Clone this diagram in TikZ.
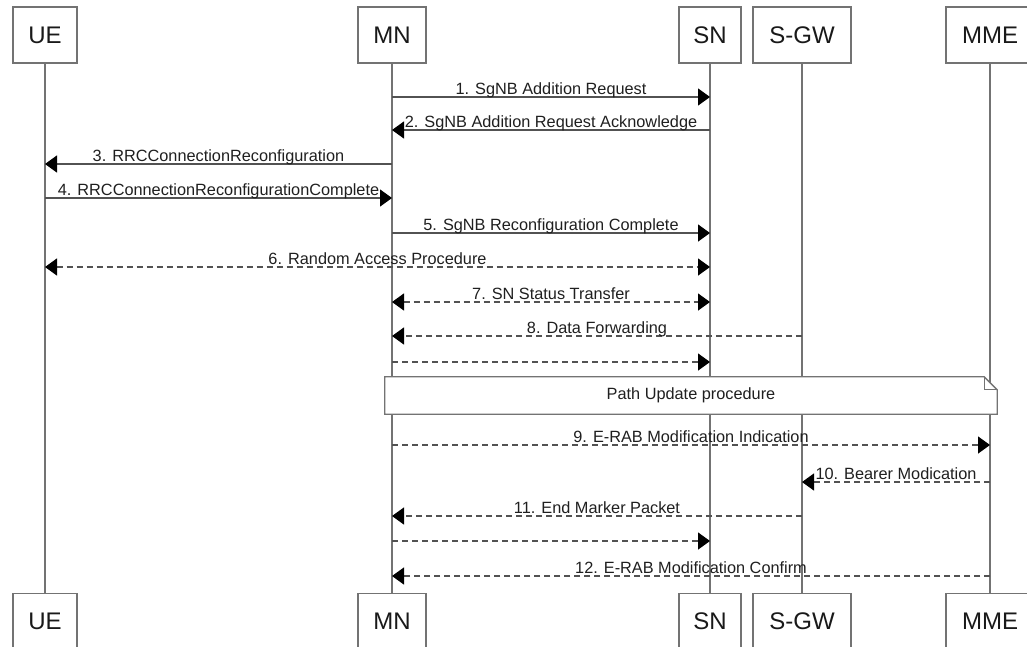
\documentclass[tikz,border=0pt]{standalone}
\usepackage{fontspec}
\setmainfont{Liberation Sans}
\usepackage{tikz}
\usetikzlibrary{arrows.meta}
\usetikzlibrary{positioning,calc}
\definecolor{lifegray}{rgb}{0.45,0.45,0.45}
\definecolor{msggray}{rgb}{0.32,0.32,0.32}
\newcommand{\msgfont}{\fontsize{16.3}{19}\selectfont}
\newcommand{\entfont}{\fontsize{24}{28}\selectfont}
\newcommand{\tip}{Triangle[length=12pt,width=17pt,color=black]}

\begin{document}
\begin{tikzpicture}[x=1pt,y=-1pt,
    entity/.style={draw=lifegray,line width=1.3pt,fill=white,minimum height=56pt,
      inner sep=0pt,font=\entfont,text=black!90},
    life/.style={draw=lifegray,line width=1.3pt},
    msg/.style={draw=msggray,line width=1.4pt,-{\tip}},
    twoway/.style={draw=msggray,line width=1.4pt,{\tip}-{\tip}},
    dsh/.style={dash pattern=on 6pt off 4pt},
    lbl/.style={midway,anchor=base,yshift=3pt,inner sep=0pt,font=\msgfont,text=black!88}]
  \useasboundingbox (0,0) rectangle (1027,646);

  % entities, top row
  \node[entity,minimum width=64pt] (ue-top)  at (45,35)  {UE};
  \node[entity,minimum width=68pt] (mn-top)  at (392,35) {MN};
  \node[entity,minimum width=62pt] (sn-top)  at (710,35) {SN};
  \node[entity,minimum width=98pt] (sgw-top) at (802,35) {S-GW};
  \node[entity,minimum width=88pt] (mme-top) at (990,35) {MME};

  % entities, bottom row
  \node[entity,minimum width=64pt,below=529pt of ue-top]  (ue-bot)  {UE};
  \node[entity,minimum width=68pt,below=529pt of mn-top]  (mn-bot)  {MN};
  \node[entity,minimum width=62pt,below=529pt of sn-top]  (sn-bot)  {SN};
  \node[entity,minimum width=98pt,below=529pt of sgw-top] (sgw-bot) {S-GW};
  \node[entity,minimum width=88pt,below=529pt of mme-top] (mme-bot) {MME};

  % lifelines
  \foreach \n in {ue,mn,sn,sgw,mme}
    \draw[life] (\n-top.south) -- (\n-bot.north);

  % message rows on every lifeline
  \foreach \k/\y in {1/97,2/130,3/164,4/198,5/233,6/267,7/302,8/336,8b/362,
                     9/445,10/482,11/516,11b/541,12/576}
    \foreach \n in {ue,mn,sn,sgw,mme}
      \coordinate (\n-\k) at (\n-top |- 0,\y);

  \draw[msg] (mn-1) -- node[lbl] {1. SgNB Addition Request} (sn-1);
  \draw[msg] (sn-2) -- node[lbl] {2. SgNB Addition Request Acknowledge} (mn-2);
  \draw[msg] (mn-3) -- node[lbl] {3. RRCConnectionReconfiguration} (ue-3);
  \draw[msg] (ue-4) -- node[lbl] {4. RRCConnectionReconfigurationComplete} (mn-4);
  \draw[msg] (mn-5) -- node[lbl] {5. SgNB Reconfiguration Complete} (sn-5);
  \draw[twoway,dsh] (ue-6) -- node[lbl] {6. Random Access Procedure} (sn-6);
  \draw[twoway,dsh] (mn-7) -- node[lbl] {7. SN Status Transfer} (sn-7);
  \draw[msg,dsh] (sgw-8) -- node[lbl] {8. Data Forwarding} (mn-8);
  \draw[msg,dsh] (mn-8b) -- (sn-8b);

  % path update note
  \path (691,395.5) node[minimum width=612pt,minimum height=37pt,inner sep=0pt] (pu) {};
  \filldraw[draw=lifegray,line width=1.3pt,fill=white]
    (pu.north west) -- ($(pu.north east)+(-13,0)$) -- ($(pu.north east)+(0,13)$)
    -- (pu.south east) -- (pu.south west) -- cycle;
  \draw[draw=lifegray,line width=1.3pt]
    ($(pu.north east)+(-13,0)$) |- ($(pu.north east)+(0,13)$);
  \node[font=\msgfont,text=black!88] (pu-text) at (pu.center) {Path Update procedure};

  \draw[msg,dsh] (mn-9) -- node[lbl] {9. E-RAB Modification Indication} (mme-9);
  \draw[msg,dsh] (mme-10) -- node[lbl] {10. Bearer Modication} (sgw-10);
  \draw[msg,dsh] (sgw-11) -- node[lbl] {11. End Marker Packet} (mn-11);
  \draw[msg,dsh] (mn-11b) -- (sn-11b);
  \draw[msg,dsh] (mme-12) -- node[lbl] {12. E-RAB Modification Confirm} (mn-12);
\end{tikzpicture}
\end{document}
